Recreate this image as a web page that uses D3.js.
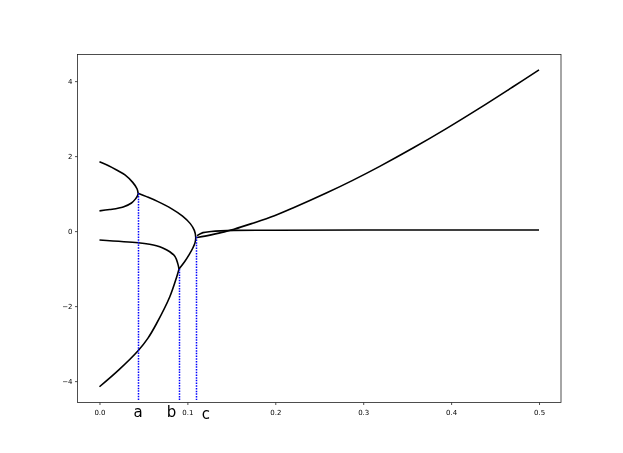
<!DOCTYPE html>
<html lang="en">
<head>
  <meta charset="UTF-8">
  <title>Root branches</title>
  <script src="https://d3js.org/d3.v7.min.js"></script>
  <style>
    body { margin: 0; background: #fff; }
    svg { will-change: transform; }
    .tick text { font-family: "DejaVu Sans", sans-serif; font-size: 7px; fill: #000; }
    .tick line { stroke: #000; stroke-width: 0.7; }
    .mark { font-family: "DejaVu Sans", sans-serif; font-size: 15px; fill: #000; }
  </style>
</head>
<body>
<div id="chart"></div>
<script>
// branches, [param, value]
const upperLeft = [[0, 1.85], [0.0098, 1.75], [0.0195, 1.63], [0.029, 1.50], [0.0378, 1.30], [0.0427, 1.13], [0.0439, 1.01]];
const lowerLeft = [[0, 0.54], [0.0117, 0.575], [0.027, 0.645], [0.0364, 0.75], [0.041, 0.86], [0.0432, 0.94], [0.0439, 1.01]];
const middle = [[0.0439, 1.01], [0.0536, 0.92], [0.0654, 0.80], [0.0818, 0.60], [0.0945, 0.40], [0.1033, 0.20],
  [0.1079, 0.02], [0.1095, -0.16], [0.1088, -0.30], [0.1062, -0.45], [0.1022, -0.62], [0.097, -0.81], [0.0905, -1.01]];
const negTop = [[0, -0.235], [0.0439, -0.31], [0.057, -0.35], [0.0648, -0.39], [0.072, -0.45], [0.08, -0.55],
  [0.086, -0.68], [0.089, -0.86], [0.0905, -1.01]];
const negBottom = [[0, -4.15], [0.022, -3.70], [0.0439, -3.19], [0.055, -2.86], [0.0648, -2.47], [0.08, -1.75],
  [0.088, -1.21], [0.0905, -1.01]];
const rising = [[0.111, -0.17], [0.12, -0.134], [0.127, -0.10], [0.142, -0.02], [0.153, 0.05], [0.173, 0.20],
  [0.199, 0.41], [0.22, 0.616], [0.258, 1.015], [0.288, 1.354], [0.3188, 1.727], [0.3566, 2.215], [0.3945, 2.734],
  [0.4324, 3.28], [0.470, 3.844], [0.5, 4.30]];
const flat = [[0.111, -0.12], [0.1177, -0.04], [0.127, -0.01], [0.153, 0.02], [0.2, 0.025], [0.3, 0.03], [0.5, 0.03]];

// dotted markers at the critical parameters
const critX = [0.0439, 0.0905, 0.110];
const critTop = [1.01, -1.01, -0.15];
const critBottom = -4.5;

const markLabels = ["a", "b", "c"];
const markX = [0.044, 0.082, 0.121];
const markY = [-4.95, -4.95, -5.01];

const xTicks = [0, 0.1, 0.2, 0.3, 0.4, 0.5];
const yTicks = [-4, -2, 0, 2, 4];

const margin = {top: 54.5, right: 62, bottom: 50.5, left: 77.5},
    width = 623 - margin.left - margin.right,
    height = 453 - margin.top - margin.bottom;

const svg = d3.select("#chart")
  .append("svg")
    .attr("width", 623)
    .attr("height", 453)
  .append("g")
    .attr("transform", `translate(${margin.left},${margin.top})`);

const x = d3.scaleLinear()
  .domain([-0.025, 0.525])
  .range([0, width]);

const y = d3.scaleLinear()
  .domain([-4.57, 4.71])
  .range([height, 0]);

svg.append("g")
  .attr("transform", `translate(0,${height})`)
  .call(d3.axisBottom(x).tickValues(xTicks).tickFormat(d3.format(".1f")).tickSize(2.5).tickPadding(5))
  .call(g => g.select(".domain").remove());

svg.append("g")
  .call(d3.axisLeft(y).tickValues(yTicks).tickFormat(d3.format("d")).tickSize(2.5).tickPadding(2.5))
  .call(g => g.select(".domain").remove());

const line = d3.line()
  .x(d => x(d[0]))
  .y(d => y(d[1]))
  .curve(d3.curveCatmullRom.alpha(0.5));

[upperLeft, lowerLeft, middle, negTop, negBottom, rising, flat].forEach(branch => {
  svg.append("path")
    .datum(branch)
    .attr("fill", "none")
    .attr("stroke", "#000")
    .attr("stroke-width", 1.6)
    .attr("d", line);
});

// snapped to the pixel grid so the dots stay blue
svg.append("g")
  .selectAll("line")
  .data(critX)
  .join("line")
    .attr("x1", d => Math.round(x(d)))
    .attr("x2", d => Math.round(x(d)))
    .attr("y1", (d, i) => y(critTop[i]))
    .attr("y2", y(critBottom))
    .attr("stroke", "#0000ff")
    .attr("stroke-width", 1.5)
    .attr("stroke-dasharray", "1.5,1.2");

svg.append("g")
  .selectAll("text")
  .data(markLabels)
  .join("text")
    .attr("class", "mark")
    .attr("x", (d, i) => x(markX[i]))
    .attr("y", (d, i) => y(markY[i]))
    .attr("text-anchor", "middle")
    .text(d => d);

// frame
svg.append("rect")
  .attr("width", width)
  .attr("height", height)
  .attr("fill", "none")
  .attr("stroke", "#222")
  .attr("stroke-width", 0.8);
</script>
</body>
</html>
